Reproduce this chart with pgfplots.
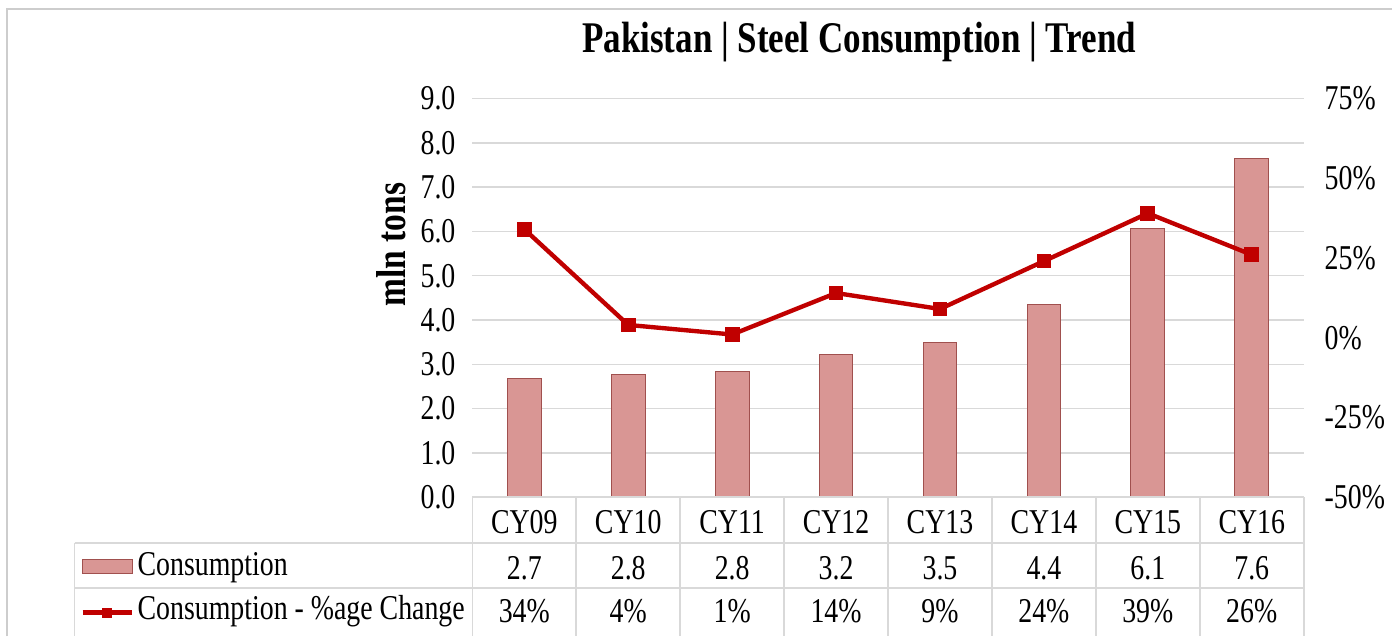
\documentclass[border=0pt]{standalone}
\usepackage{fontspec}
\setmainfont{Liberation Serif}[FakeStretch=0.8]
\usepackage{pgfplots}
\pgfplotsset{compat=1.18}
\usepackage{pgfplotstable}

\definecolor{barfill}{RGB}{217,150,148}
\definecolor{bardraw}{RGB}{160,80,78}
\definecolor{linered}{RGB}{192,0,0}
\definecolor{gridgray}{RGB}{217,217,217}
\definecolor{framegray}{RGB}{205,205,205}

\pgfplotstableread{
x cons chg
0 2.67 34
1 2.78 4
2 2.83 1
3 3.23 14
4 3.50 9
5 4.36 24
6 6.06 39
7 7.64 26
}\datatable

\newcommand{\bodyfont}{\fontsize{17.5}{18}\selectfont}

\begin{document}
\begin{tikzpicture}
\begin{scope}[x=0.5pt,y=-0.5pt,yshift=317.5pt]
\useasboundingbox (0,0) rectangle (1393,635);
\end{scope}

\begin{axis}[
  at={(237.5pt,67.5pt)}, anchor=south west,
  scale only axis, width=418pt, height=200.5pt,
  xmin=-0.5, xmax=7.5, ymin=0, ymax=9,
  ytick={0,1,2,3,4,5,6,7,8,9},
  yticklabels={0.0,1.0,2.0,3.0,4.0,5.0,6.0,7.0,8.0,9.0},
  xtick=\empty,
  axis line style={draw=none},
  major tick length=0pt,
  ymajorgrids, grid style={gridgray, line width=0.8pt},
  /pgf/number format/assume math mode=true,
  yticklabel style={font=\bodyfont, xshift=-5pt},
  clip=false,
]
\addplot[ybar, bar width=17pt, fill=barfill, draw=bardraw, line width=0.5pt]
  table[x=x,y=cons]{\datatable};
\end{axis}

\begin{axis}[
  at={(237.5pt,67.5pt)}, anchor=south west,
  scale only axis, width=418pt, height=200.5pt,
  xmin=-0.5, xmax=7.5, ymin=-50, ymax=75,
  axis y line*=right, axis x line=none,
  ytick={-50,-25,0,25,50,75},
  yticklabels={-50\%,-25\%,0\%,25\%,50\%,75\%},
  xtick=\empty,
  axis line style={draw=none},
  major tick length=0pt,
  /pgf/number format/assume math mode=true,
  yticklabel style={font=\bodyfont, xshift=7pt},
  clip=false,
]
\addplot[linered, line width=2.2pt, mark=square*, mark size=2.6pt, mark options={solid}]
  table[x=x,y=chg]{\datatable};
\end{axis}

\begin{scope}[x=0.5pt,y=-0.5pt,yshift=317.5pt]
  % chart frame
  \draw[framegray, line width=0.8pt] (7,640) -- (7,9) -- (1400,9);
  % title
  \node[font=\fontsize{22}{24}\selectfont\bfseries] at (864,42) {Pakistan | Steel Consumption | Trend};
  % y label
  \node[rotate=90, font=\fontsize{21}{22}\selectfont\bfseries] at (393,246) {mln tons};
  % data table grid
  \begin{scope}[gridgray, line width=0.8pt]
    \draw (475,500) -- (1311,500);
    \foreach \k in {0,...,8} { \draw (475+104.5*\k,500) -- (475+104.5*\k,640); }
    \draw (75,546) -- (1311,546);
    \draw (75,591) -- (1311,591);
    \draw (75,546) -- (75,640);
  \end{scope}
  % table texts
  \foreach \i/\t in {0/CY09,1/CY10,2/CY11,3/CY12,4/CY13,5/CY14,6/CY15,7/CY16}
    { \node[font=\bodyfont] at (527.25+104.5*\i,525) {\t}; }
  \foreach \i/\t in {0/2.7,1/2.8,2/2.8,3/3.2,4/3.5,5/4.4,6/6.1,7/7.6}
    { \node[font=\bodyfont] at (527.25+104.5*\i,571) {\t}; }
  \foreach \i/\t in {0/34\%,1/4\%,2/1\%,3/14\%,4/9\%,5/24\%,6/39\%,7/26\%}
    { \node[font=\bodyfont] at (527.25+104.5*\i,615) {\t}; }
  \node[font=\bodyfont, anchor=west, inner sep=0pt] at (138,571) {Consumption};
  \node[font=\bodyfont, anchor=west, inner sep=0pt] at (138,615) {Consumption - \%age Change};
  % legend keys
  \draw[fill=barfill, draw=bardraw, line width=0.5pt] (83,563) rectangle (133,577);
  \draw[linered, line width=2.2pt] (83,616) -- (133,616);
  \fill[linered] (103,611) rectangle (113,621);
\end{scope}
\end{tikzpicture}
\end{document}
